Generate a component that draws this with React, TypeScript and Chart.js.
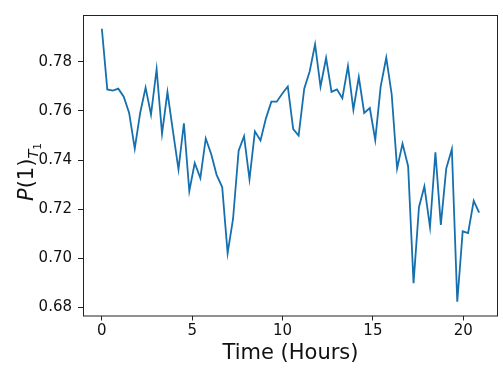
import React, { useEffect, useRef } from "react";
import { Chart, registerables } from "chart.js";

Chart.register(...registerables);

const hours = [
  0.0, 0.3, 0.61, 0.91, 1.21, 1.51, 1.82, 2.12, 2.42, 2.72,
  3.03, 3.33, 3.63, 3.93, 4.24, 4.54, 4.84, 5.14, 5.45, 5.75,
  6.05, 6.35, 6.66, 6.96, 7.26, 7.57, 7.87, 8.17, 8.47, 8.78,
  9.08, 9.38, 9.68, 9.99, 10.29, 10.59, 10.89, 11.2, 11.5, 11.8,
  12.1, 12.41, 12.71, 13.01, 13.31, 13.62, 13.92, 14.22, 14.52, 14.83,
  15.13, 15.43, 15.74, 16.04, 16.34, 16.64, 16.95, 17.25, 17.55, 17.85,
  18.16, 18.46, 18.76, 19.06, 19.37, 19.67, 19.97, 20.27, 20.58, 20.88,
];

const p1T1 = [
  0.7935, 0.7688, 0.7683, 0.7691, 0.7658, 0.7592, 0.7447, 0.7592, 0.7695, 0.7585,
  0.777, 0.7507, 0.7677, 0.752, 0.7362, 0.755, 0.7274, 0.7388, 0.7327, 0.7488,
  0.7425, 0.734, 0.729, 0.7021, 0.716, 0.7438, 0.7497, 0.7322, 0.7517, 0.748,
  0.757, 0.7638, 0.7638, 0.7671, 0.77, 0.7526, 0.75, 0.7691, 0.7761, 0.7872,
  0.7699, 0.7816, 0.7678, 0.7688, 0.7652, 0.7783, 0.7605, 0.7738, 0.7592, 0.7612,
  0.7482, 0.7699, 0.7817, 0.7668, 0.7366, 0.7467, 0.7375, 0.6899, 0.7208, 0.7293,
  0.7127, 0.7432, 0.7136, 0.7366, 0.7445, 0.6823, 0.711, 0.7103, 0.7234, 0.7186,
];

const xTicks = [0, 5, 10, 15, 20];
const yTicks = [0.68, 0.7, 0.72, 0.74, 0.76, 0.78];
const xTitle = "Time (Hours)";
const xRange = [-1.044, 21.924];
const yRange = [0.6767, 0.7991];

const FONT = '"DejaVu Sans", sans-serif';

const framePlugin = {
  id: "frame",
  afterDraw(chart: any) {
    const { ctx, chartArea: ca } = chart;
    ctx.save();
    ctx.strokeStyle = "#222";
    ctx.lineWidth = 1;
    ctx.strokeRect(ca.left + 0.5, ca.top + 0.5, ca.right - ca.left - 1, ca.bottom - ca.top);
    ctx.restore();
  },
};

const labelsPlugin = {
  id: "axisLabels",
  afterDraw(chart: any) {
    const { ctx, chartArea: ca } = chart;
    ctx.save();
    ctx.fillStyle = "#111";
    // x title
    ctx.font = `21px ${FONT}`;
    ctx.textAlign = "center";
    ctx.textBaseline = "alphabetic";
    ctx.fillText(xTitle, (ca.left + ca.right) / 2, 359);

    // y title: P(1)_{T_1}
    const big = 21;
    const sub = 14.7;
    const subsub = 10.5;
    const parts = [
      { t: "P", font: `italic ${big}px ${FONT}`, dy: 0 },
      { t: "(1)", font: `${big}px ${FONT}`, dy: 0 },
      { t: "T", font: `italic ${sub}px ${FONT}`, dy: big * 0.22 },
      { t: "1", font: `${subsub}px ${FONT}`, dy: big * 0.22 + sub * 0.25 },
    ];
    let total = 0;
    const widths = parts.map((p) => {
      ctx.font = p.font;
      const w = ctx.measureText(p.t).width;
      total += w;
      return w;
    });
    const cy = 172;
    ctx.translate(33, cy);
    ctx.rotate(-Math.PI / 2);
    ctx.textAlign = "left";
    let x = -total / 2;
    parts.forEach((p, i) => {
      ctx.font = p.font;
      ctx.fillText(p.t, x, p.dy);
      x += widths[i];
    });
    ctx.restore();
  },
};

export default function App() {
  const ref = useRef<HTMLCanvasElement | null>(null);

  useEffect(() => {
    if (!ref.current) return;
    const data = hours.map((h, i) => ({ x: h, y: p1T1[i] }));
    const chart = new Chart(ref.current, {
      type: "line",
      data: {
        datasets: [
          {
            data,
            borderColor: "#1670ad",
            borderWidth: 1.8,
            pointRadius: 0,
            tension: 0,
            fill: false,
          },
        ],
      },
      options: {
        responsive: false,
        animation: false,
        layout: { padding: { left: 0, right: 5, top: 5, bottom: 0 } },
        plugins: { legend: { display: false }, tooltip: { enabled: false } },
        scales: {
          x: {
            type: "linear",
            min: xRange[0],
            max: xRange[1],
            afterBuildTicks: (s: any) => {
              s.ticks = xTicks.map((v) => ({ value: v }));
            },
            afterFit: (s: any) => {
              s.height = 54.5;
            },
            grid: {
              drawOnChartArea: false,
              drawTicks: true,
              tickLength: 5,
              tickColor: "#222",
              tickWidth: 1,
            },
            border: { display: false },
            ticks: {
              color: "#111",
              font: { family: FONT, size: 15 },
              padding: 2,
              maxRotation: 0,
              callback: (v: any) => String(v),
            },
          },
          y: {
            type: "linear",
            min: yRange[0],
            max: yRange[1],
            afterBuildTicks: (s: any) => {
              s.ticks = yTicks.map((v) => ({ value: v }));
            },
            afterFit: (s: any) => {
              s.width = 83;
            },
            grid: {
              drawOnChartArea: false,
              drawTicks: true,
              tickLength: 5,
              tickColor: "#222",
              tickWidth: 1,
            },
            border: { display: false },
            ticks: {
              color: "#111",
              font: { family: FONT, size: 15 },
              padding: 6,
              callback: (v: any) => Number(v).toFixed(2),
            },
          },
        },
      },
      plugins: [framePlugin, labelsPlugin],
    });
    return () => chart.destroy();
  }, []);

  return (
    <div style={{ position: "fixed", left: 0, top: 0, width: 503, height: 370, background: "#fff" }}>
      <canvas ref={ref} width={503} height={370} />
    </div>
  );
}
